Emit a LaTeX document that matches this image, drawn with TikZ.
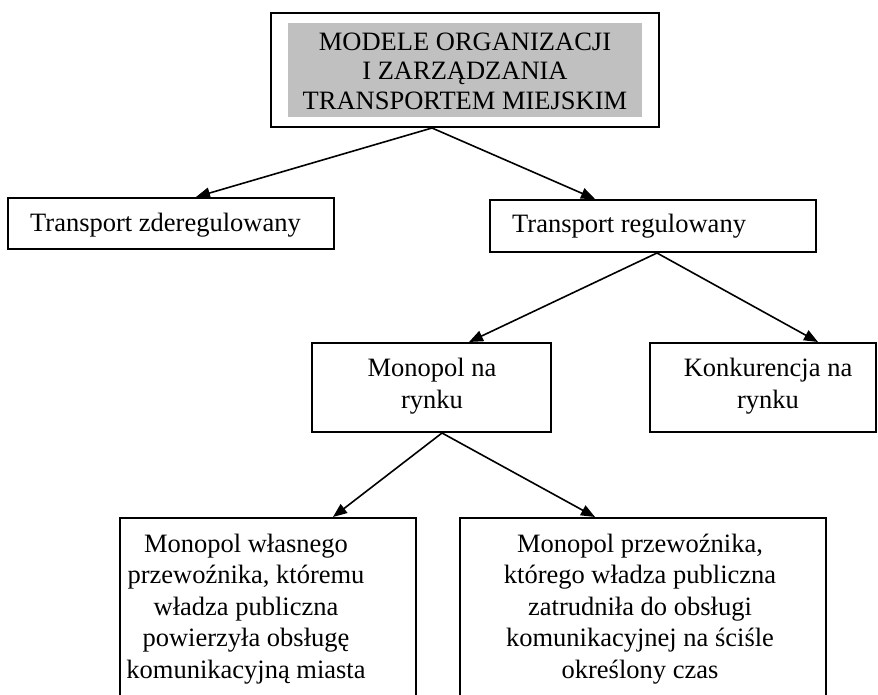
\documentclass[tikz,border=0pt]{standalone}
\usepackage{fontspec}
\setmainfont{Liberation Serif}
\usetikzlibrary{arrows.meta,calc}
\definecolor{boxgray}{RGB}{192,192,192}
\begin{document}
\begin{tikzpicture}[x=1pt,y=-1pt,
  box/.style={draw=black, line width=2pt, inner sep=0pt},
  txt/.style={font=\fontsize{26.5}{31.5}\selectfont, inner sep=0pt, align=center},
  arr/.style={line width=1.6pt, -{Triangle[length=14pt,width=11pt]}}]
\useasboundingbox (0,0) rectangle (878,695);
\clip (0,0) rectangle (878,695);
% boxes
\node[box, minimum width=388pt, minimum height=114pt] (top) at (465,70) {};
\node[fill=boxgray, inner sep=0pt, minimum width=354pt, minimum height=94pt] (topfill) at (465,70) {};
\node[box, minimum width=326pt, minimum height=51pt] (tz) at (171,223.5) {};
\node[box, minimum width=326pt, minimum height=52pt] (tr) at (653,226) {};
\node[box, minimum width=239pt, minimum height=89pt] (mon) at (431.5,387.5) {};
\node[box, minimum width=226pt, minimum height=89pt] (kon) at (763,387.5) {};
\node[box, minimum width=296pt, minimum height=181pt] (bl) at (268,608.5) {};
\node[box, minimum width=366pt, minimum height=181pt] (br) at (643,608.5) {};
% texts
\node[txt, font=\fontsize{26.5}{29.5}\selectfont] (topt) at (465,71) {MODELE ORGANIZACJI\\I ZARZĄDZANIA\\TRANSPORTEM MIEJSKIM};
\node[txt, anchor=base west] (tzt) at (30,232) {Transport zderegulowany};
\node[txt, anchor=base west] (trt) at (512,233) {Transport regulowany};
\node[txt] (mont) at (432,386) {Monopol na\\rynku};
\node[txt] (kont) at (768,386) {Konkurencja na\\rynku};
\node[txt] (blt) at (246,609) {Monopol własnego\\przewoźnika, któremu\\władza publiczna\\powierzyła obsługę\\komunikacyjną miasta};
\node[txt] (brt) at (640,609) {Monopol przewoźnika,\\którego władza publiczna\\zatrudniła do obsługi\\komunikacyjnej na ściśle\\określony czas};
% connectors
\draw[arr] ($(top.south)+(-33,0)$) -- ($(tz.north)+(25,0)$);
\draw[arr] ($(top.south)+(-33,0)$) -- ($(tr.north)+(-58,0)$);
\draw[arr] ($(tr.south)+(4,0)$) -- ($(mon.north)+(37.5,0)$);
\draw[arr] ($(tr.south)+(4,0)$) -- ($(kon.north)+(55,0)$);
\draw[arr] ($(mon.south)+(10.5,0)$) -- ($(bl.north)+(65,0)$);
\draw[arr] ($(mon.south)+(10.5,0)$) -- ($(br.north)+(-48,0)$);
\end{tikzpicture}
\end{document}
